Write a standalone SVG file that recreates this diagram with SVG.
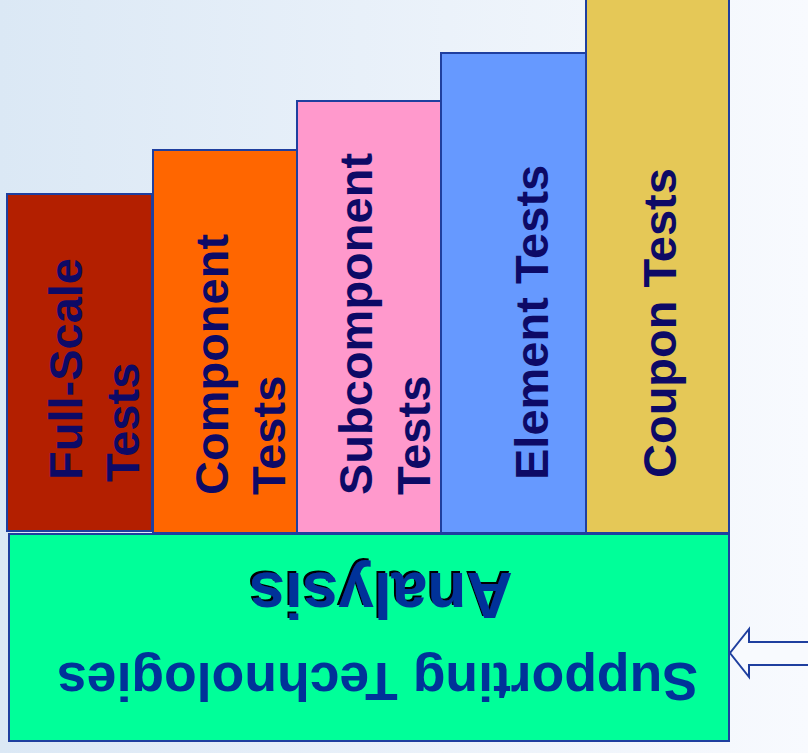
<svg xmlns="http://www.w3.org/2000/svg" width="808" height="753" viewBox="0 0 808 753">
<defs>
<linearGradient id="bg" x1="0" y1="0" x2="1" y2="0">
<stop offset="0" stop-color="#dbe8f5"/>
<stop offset="1" stop-color="#f8fafe"/>
</linearGradient>
<filter id="shadow" x="-10%" y="-20%" width="120%" height="140%">
<feOffset in="SourceAlpha" dx="2.5" dy="2.5" result="off"/>
<feFlood flood-color="#000000"/>
<feComposite operator="in" in2="off" result="sh"/>
<feMerge><feMergeNode in="sh"/><feMergeNode in="SourceGraphic"/></feMerge>
</filter>
<style>
.bar{stroke:#1f3f9f;stroke-width:2}
.lbl{font-family:"Liberation Sans",Arial,sans-serif;font-weight:bold;font-size:47px;fill:#0d0a66}
.big{font-family:"Liberation Sans",Arial,sans-serif;font-weight:bold;text-anchor:middle;fill:#003399}
</style>
</defs>
<rect x="0" y="0" width="808" height="753" fill="url(#bg)"/>
<g id="coupon">
<rect class="bar" x="586" y="-5" width="143" height="538" fill="#e5c857"/>
<text class="lbl" transform="translate(676,478) rotate(-90)">Coupon Tests</text>
</g>
<g id="element">
<rect class="bar" x="441" y="53" width="145" height="480" fill="#6699ff"/>
<text class="lbl" transform="translate(548,480) rotate(-90)">Element Tests</text>
</g>
<g id="subcomponent">
<rect class="bar" x="297" y="101" width="144" height="432" fill="#ff99cc"/>
<text class="lbl" transform="translate(372,495) rotate(-90)">Subcomponent</text>
<text class="lbl" transform="translate(430,495) rotate(-90)">Tests</text>
</g>
<g id="component">
<rect class="bar" x="153" y="150" width="144" height="383" fill="#ff6600"/>
<text class="lbl" transform="translate(228,495) rotate(-90)">Component</text>
<text class="lbl" transform="translate(285,495) rotate(-90)">Tests</text>
</g>
<g id="fullscale">
<rect class="bar" x="7" y="194" width="145" height="337" fill="#b31f00"/>
<text class="lbl" transform="translate(82,480) rotate(-90)">Full-Scale</text>
<text class="lbl" transform="translate(139,482) rotate(-90)">Tests</text>
</g>
<g id="supporting">
<rect class="bar" x="9" y="534" width="720" height="207" fill="#00ff99"/>
<text class="big" transform="translate(381,573) rotate(180)" font-size="64" filter="url(#shadow)">Analysis</text>
<text class="big" transform="translate(377.5,663) rotate(180)" font-size="53.5">Supporting Technologies</text>
</g>
<g id="connectors">
<path d="M812,642 H749 V629 L730,653 L749,677 V665 H812" fill="#f8fafe" stroke="#1f3f9f" stroke-width="2"/>
</g>
</svg>
